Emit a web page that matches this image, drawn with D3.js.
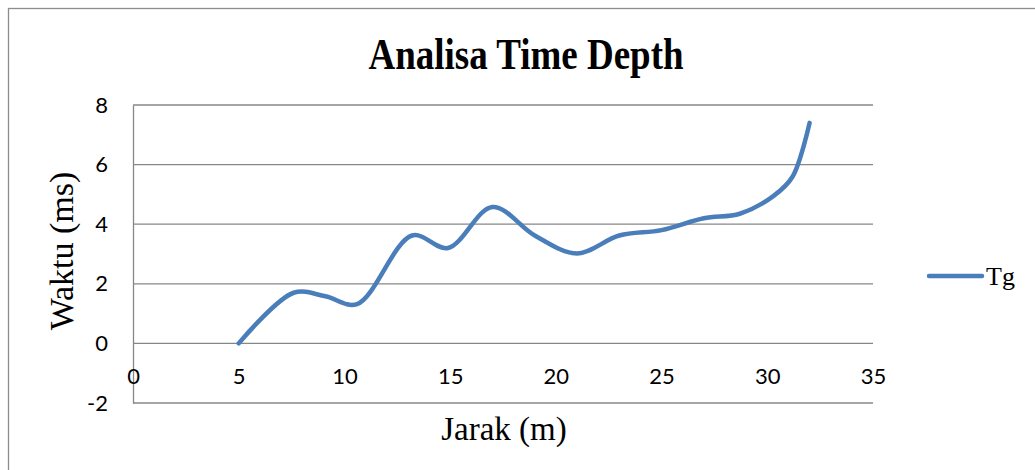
<!DOCTYPE html>
<html>
<head>
<meta charset="utf-8">
<script src="https://cdn.jsdelivr.net/npm/d3@7"></script>
<style>
  html, body { margin: 0; padding: 0; background: #fff; overflow: hidden; }
  svg { display: block; }
</style>
</head>
<body>
<svg id="chart" width="1035" height="470"></svg>
<script>
// Data
const jarak = [5, 7.6, 9.1, 10.6, 13.2, 14.9, 17.0, 19.0, 21.0, 23.0, 25.0, 27.0, 28.7, 30.3, 31.2, 32.0];
const waktu = [0, 1.7, 1.58, 1.32, 3.62, 3.2, 4.58, 3.62, 3.02, 3.62, 3.8, 4.2, 4.35, 4.95, 5.6, 7.4];
const seriesName = "Tg";
const xTicks = [0, 5, 10, 15, 20, 25, 30, 35];
const yTicks = [-2, 0, 2, 4, 6, 8];
const titleText = "Analisa Time Depth";
const xLabel = "Jarak (m)";
const yLabel = "Waktu (ms)";

const svg = d3.select("#chart");
const x = d3.scaleLinear().domain([0, 35]).range([133, 873]);
const y = d3.scaleLinear().domain([-2, 8]).range([403, 105]);

const gridColor = "#878787";
const tickFont = "Lato, 'Open Sans', sans-serif";
const serif = "'Liberation Serif', 'Times New Roman', serif";

// outer border
svg.append("rect")
  .attr("x", 8.5).attr("y", 8.5)
  .attr("width", 1100).attr("height", 500)
  .attr("fill", "none").attr("stroke", "#8c8c8c").attr("stroke-width", 1.3);

// title
svg.append("text")
  .attr("transform", "translate(526,69) scale(1,1.2)")
  .attr("text-anchor", "middle")
  .attr("font-family", serif).attr("font-weight", "bold")
  .attr("font-size", 37).attr("fill", "#000")
  .text(titleText);

// gridlines
svg.append("g")
  .selectAll("line").data(yTicks).join("line")
  .attr("x1", x(0)).attr("x2", x(35))
  .attr("y1", d => y(d)).attr("y2", d => y(d))
  .attr("stroke", gridColor).attr("stroke-width", 1.3);

// y axis
const yAxis = d3.axisLeft(y).tickValues(yTicks).tickSize(0).tickPadding(25)
  .tickFormat(d => d);
const yg = svg.append("g").attr("transform", `translate(${x(0)},0)`).call(yAxis);
yg.select(".domain").attr("stroke", gridColor).attr("stroke-width", 1.3);
yg.selectAll("text").attr("font-family", tickFont).attr("font-size", 22).attr("fill", "#000");

// x axis at y = 0
const xAxis = d3.axisBottom(x).tickValues(xTicks).tickSize(0).tickPadding(25)
  .tickFormat(d => d);
const xg = svg.append("g").attr("transform", `translate(0,${y(0)})`).call(xAxis);
xg.select(".domain").remove();
xg.selectAll("text").attr("font-family", tickFont).attr("font-size", 22).attr("fill", "#000");

// axis titles
svg.append("text")
  .attr("x", 504).attr("y", 440)
  .attr("text-anchor", "middle")
  .attr("font-family", serif).attr("font-size", 33).attr("fill", "#000")
  .text(xLabel);

svg.append("text")
  .attr("transform", `translate(73,251) rotate(-90)`)
  .attr("text-anchor", "middle")
  .attr("font-family", serif).attr("font-size", 34).attr("fill", "#000")
  .text(yLabel);

// series line
const pts = jarak.map((d, i) => [d, waktu[i]]);
const line = d3.line()
  .x(d => x(d[0])).y(d => y(d[1]))
  .curve(d3.curveCatmullRom.alpha(0.5));
svg.append("path")
  .datum(pts)
  .attr("d", line)
  .attr("fill", "none")
  .attr("stroke", "#4a7ebb")
  .attr("stroke-width", 4.5)
  .attr("stroke-linecap", "round")
  .attr("stroke-linejoin", "round");

// legend
svg.append("line")
  .attr("x1", 929).attr("x2", 982).attr("y1", 276).attr("y2", 276)
  .attr("stroke", "#4a7ebb").attr("stroke-width", 4.5).attr("stroke-linecap", "round");
svg.append("text")
  .attr("x", 986).attr("y", 285)
  .attr("font-family", serif).attr("font-size", 26).attr("fill", "#000")
  .text(seriesName);
</script>
</body>
</html>
